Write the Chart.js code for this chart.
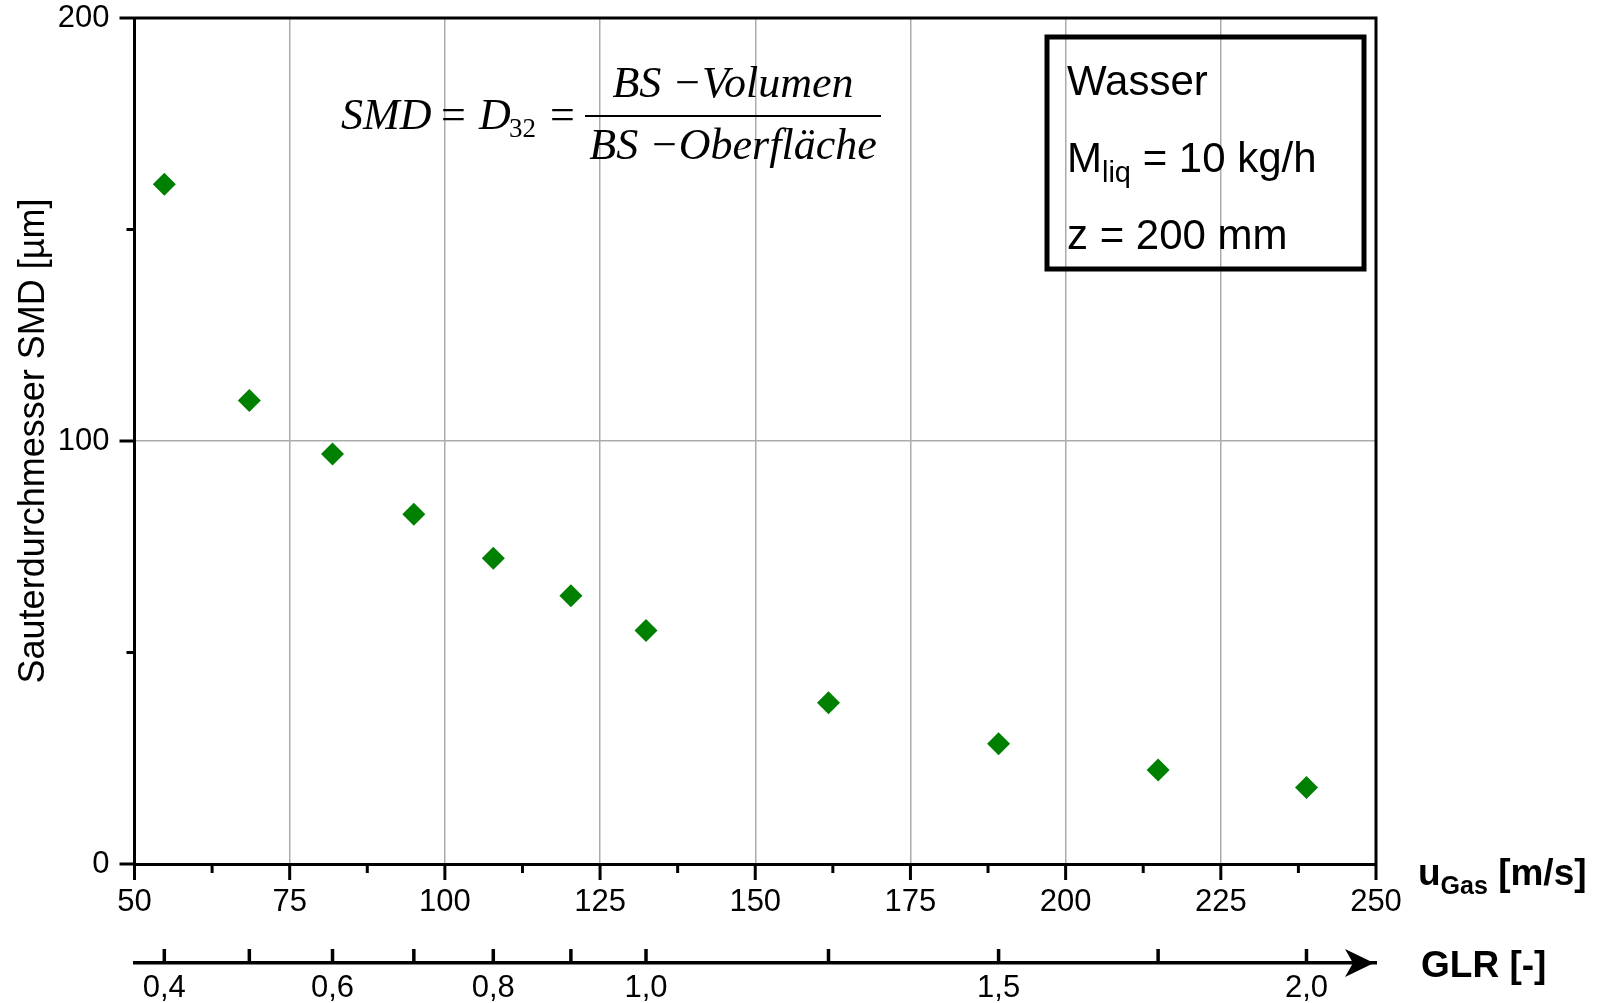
<!DOCTYPE html>
<html>
<head>
<meta charset="utf-8">
<script src="https://cdn.jsdelivr.net/npm/chart.js@4/dist/chart.umd.min.js"></script>
<style>
  html, body { margin: 0; padding: 0; background: #fff; }
  #wrap { width: 1598px; height: 1003px; position: relative; }
</style>
</head>
<body>
<div id="wrap"><canvas id="smdChart"></canvas></div>
<script>
// Messwerte: Gasgeschwindigkeit [m/s] und Sauterdurchmesser [µm]
const uGas = [54.8, 68.5, 81.9, 95.0, 107.8, 120.3, 132.4, 161.8, 189.2, 214.9, 238.8];
const smd = [160.7, 109.6, 96.9, 82.7, 72.3, 63.4, 55.2, 38.1, 28.4, 22.2, 18.1];
// GLR je Messpunkt (gleiche Reihenfolge wie uGas)
const glr = [0.4, 0.5, 0.6, 0.7, 0.8, 0.9, 1.0, 1.25, 1.5, 1.75, 2.0];
const glrLabels = ['0,4', '', '0,6', '', '0,8', '', '1,0', '', '1,5', '', '2,0'];

const sans = "'Liberation Sans', Arial, sans-serif";
const serif = "'Liberation Serif', 'Times New Roman', serif";

// Achsenstriche, Rahmen, Pfeil und Beschriftungen
const extras = {
    id: 'extras',
    afterDraw(chart) {
        const ctx = chart.ctx;
        const a = chart.chartArea;
        const xs = chart.scales.x, ys = chart.scales.y, gs = chart.scales.glr;
        ctx.save();
        ctx.strokeStyle = '#000';
        ctx.lineWidth = 3;

        // Rahmen oben und rechts
        ctx.beginPath();
        ctx.moveTo(a.left, a.top);
        ctx.lineTo(a.right, a.top);
        ctx.lineTo(a.right, a.bottom);
        ctx.stroke();

        // x-Striche
        xs.ticks.forEach(t => {
            const px = xs.getPixelForValue(t.value);
            const len = t.value % 25 === 0 ? 16 : 9;
            ctx.beginPath();
            ctx.moveTo(px, a.bottom);
            ctx.lineTo(px, a.bottom + len);
            ctx.stroke();
        });
        // y-Striche
        ys.ticks.forEach(t => {
            const py = ys.getPixelForValue(t.value);
            const len = t.value % 100 === 0 ? 15 : 8;
            ctx.beginPath();
            ctx.moveTo(a.left, py);
            ctx.lineTo(a.left - len, py);
            ctx.stroke();
        });

        // GLR-Achse: Striche nach oben, Pfeilspitze
        const gy = gs.top;
        ctx.lineWidth = 3.5;
        gs.ticks.forEach(t => {
            const px = gs.getPixelForValue(t.value);
            ctx.beginPath();
            ctx.moveTo(px, gy);
            ctx.lineTo(px, gy - 14);
            ctx.stroke();
        });
        ctx.fillStyle = '#000';
        ctx.beginPath();
        ctx.moveTo(a.right - 2, gy);
        ctx.lineTo(a.right - 31, gy - 14);
        ctx.lineTo(a.right - 23, gy);
        ctx.lineTo(a.right - 31, gy + 14);
        ctx.closePath();
        ctx.fill();

        // Achsentitel rechts
        ctx.textBaseline = 'alphabetic';
        ctx.textAlign = 'left';
        let x = 1418;
        ctx.font = 'bold 37px ' + sans;
        ctx.fillText('u', x, 885);
        x += ctx.measureText('u').width;
        ctx.font = 'bold 25px ' + sans;
        ctx.fillText('Gas', x, 894);
        x += ctx.measureText('Gas').width;
        ctx.font = 'bold 37px ' + sans;
        ctx.fillText(' [m/s]', x, 885);
        ctx.fillText('GLR [-]', 1421, 977);

        // Infokasten
        ctx.lineWidth = 5;
        ctx.strokeRect(1047, 37, 317, 232);
        ctx.font = '42px ' + sans;
        ctx.fillText('Wasser', 1067, 95);
        ctx.fillText('M', 1067, 172);
        let mx = 1067 + ctx.measureText('M').width;
        ctx.font = '29px ' + sans;
        ctx.fillText('liq', mx, 182);
        mx += ctx.measureText('liq').width;
        ctx.font = '42px ' + sans;
        ctx.fillText(' = 10 kg/h', mx, 172);
        ctx.fillText('z = 200 mm', 1067, 249);

        // Formel SMD = D32 = Volumen / Oberfläche
        ctx.font = 'italic 44px ' + serif;
        ctx.fillText('SMD', 341, 129);
        ctx.font = '44px ' + serif;
        ctx.fillText('=', 441, 129);
        ctx.font = 'italic 44px ' + serif;
        ctx.fillText('D', 479, 129);
        ctx.font = '27px ' + serif;
        ctx.fillText('32', 509, 137);
        ctx.font = '44px ' + serif;
        ctx.fillText('=', 550, 129);
        ctx.lineWidth = 2;
        ctx.beginPath();
        ctx.moveTo(585, 116);
        ctx.lineTo(881, 116);
        ctx.stroke();
        ctx.textAlign = 'center';
        ctx.font = 'italic 44px ' + serif;
        ctx.fillText('BS \u2212Volumen', 733, 97);
        ctx.fillText('BS \u2212Oberfläche', 733, 159);
        ctx.restore();
    }
};

new Chart(document.getElementById('smdChart').getContext('2d'), {
    type: 'scatter',
    data: {
        datasets: [{
            label: 'SMD',
            data: uGas.map((u, i) => ({ x: u, y: smd[i] })),
            pointStyle: 'rectRot',
            pointRadius: 11.5,
            pointHoverRadius: 11.5,
            backgroundColor: '#008000',
            borderColor: '#008000',
            borderWidth: 0
        }]
    },
    options: {
        responsive: true,
        maintainAspectRatio: false,
        animation: false,
        events: [],
        layout: { padding: { top: 18, right: 222, left: 0, bottom: 0 } },
        plugins: { legend: { display: false }, tooltip: { enabled: false } },
        scales: {
            x: {
                type: 'linear',
                position: 'bottom',
                min: 50, max: 250,
                afterFit: s => { s.height = 99; s.paddingLeft = 0; s.paddingRight = 0; },
                afterBuildTicks: s => {
                    const t = [];
                    for (let v = 50; v <= 250; v += 12.5) t.push({ value: v });
                    s.ticks = t;
                },
                ticks: {
                    autoSkip: false,
                    maxRotation: 0,
                    padding: 20,
                    color: '#000',
                    font: { family: sans, size: 31 },
                    callback: v => (v % 25 === 0 ? String(v) : '')
                },
                grid: {
                    drawTicks: false,
                    lineWidth: 1.5,
                    color: c => (c.tick && c.tick.value % 25 === 0 && c.tick.value > 50 && c.tick.value < 250) ? '#ababab' : 'rgba(0,0,0,0)'
                },
                border: { display: true, color: '#000', width: 3 }
            },
            glr: {
                type: 'linear',
                position: 'bottom',
                min: 50, max: 250,
                afterFit: s => { s.height = 40; s.paddingLeft = 0; s.paddingRight = 0; },
                afterBuildTicks: s => { s.ticks = uGas.map(v => ({ value: v })); },
                ticks: {
                    autoSkip: false,
                    maxRotation: 0,
                    padding: 7,
                    color: '#000',
                    font: { family: sans, size: 31 },
                    callback: (v, i) => glrLabels[i]
                },
                grid: { drawOnChartArea: false, drawTicks: false },
                border: { display: true, color: '#000', width: 3.5 }
            },
            y: {
                min: 0, max: 200,
                afterFit: s => { s.width = 134.5; s.paddingTop = 0; s.paddingBottom = 0; },
                afterBuildTicks: s => { s.ticks = [0, 50, 100, 150, 200].map(v => ({ value: v })); },
                ticks: {
                    padding: 25,
                    color: '#000',
                    font: { family: sans, size: 31 },
                    callback: v => (v % 100 === 0 ? String(v) : '')
                },
                grid: {
                    drawTicks: false,
                    lineWidth: 1.5,
                    color: c => (c.tick && c.tick.value === 100) ? '#ababab' : 'rgba(0,0,0,0)'
                },
                border: { display: true, color: '#000', width: 3 },
                title: {
                    display: true,
                    text: 'Sauterdurchmesser SMD [µm]',
                    color: '#000',
                    font: { family: sans, size: 36 },
                    padding: { top: 12, bottom: 0 }
                }
            }
        }
    },
    plugins: [extras]
});
</script>
</body>
</html>
